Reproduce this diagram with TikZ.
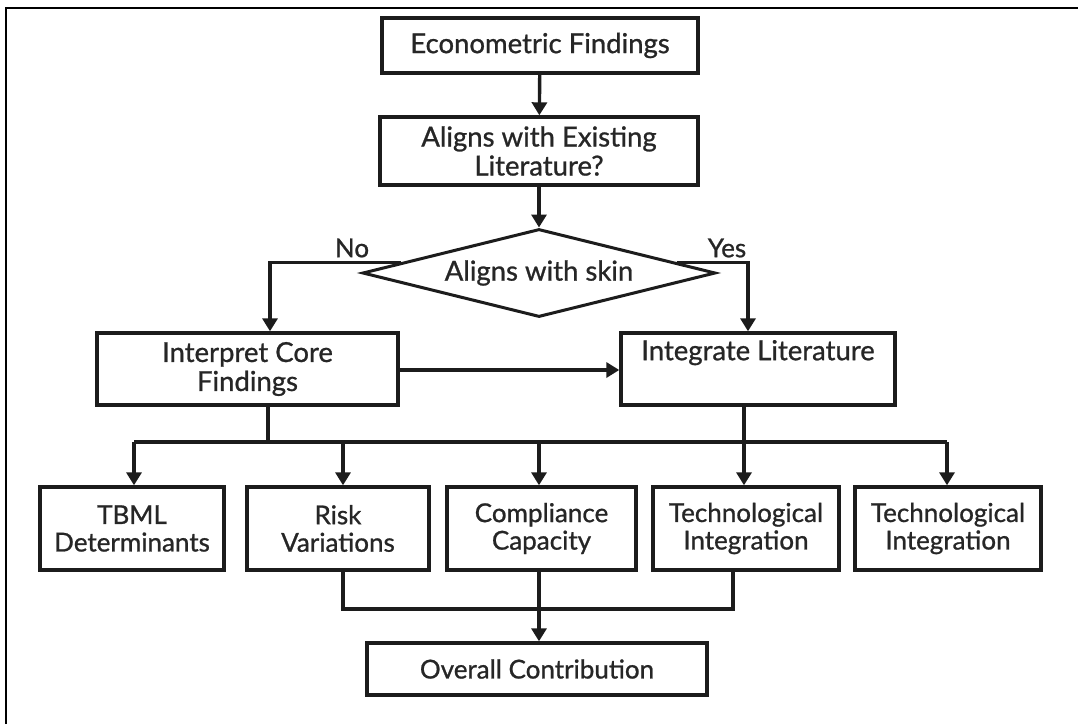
\documentclass[tikz,border=0pt]{standalone}
\usepackage{fontspec}
\setmainfont{Lato}[FakeBold=0.9,BoldFont=Lato]
\usetikzlibrary{arrows.meta,shapes.geometric,calc}
\definecolor{ink}{HTML}{1C1C1C}
\definecolor{txt}{HTML}{262626}
\begin{document}
\begin{tikzpicture}[x=1pt,y=-1pt,
  every node/.style={text=txt,font=\fontsize{27.5}{29}\selectfont\bfseries},
  box/.style={draw=ink,line width=3.4pt,fill=white,align=center,inner sep=0pt},
  choice/.style={draw=ink,line width=3pt,fill=white,diamond,aspect=4,inner sep=0pt},
  link/.style={draw=ink,line width=3.4pt},
  flow/.style={link,-{Triangle[width=15pt,length=13pt]}},
  small/.style={font=\fontsize{26}{27.5}\selectfont\bfseries},
  tag/.style={font=\fontsize{26}{27}\selectfont\bfseries}]
  \useasboundingbox (0,0) rectangle (1078,724);
  \fill[white] (0,0) rectangle (1078,724);
  % partial frame along the top and left edges
  \draw[black,line width=2.2pt] (6,724) -- (6,8) -- (1078,8);

  % main column
  \node[box,minimum width=316pt,minimum height=55pt] (econ) at (540,45.5) {Econometric Findings};
  \node[box,minimum width=318pt,minimum height=68pt] (lit) at (539,151) {Aligns with Existing\\Literature?};
  \node[box,minimum width=301pt,minimum height=72pt] (interp) at (247.5,369) {Interpret Core\\Findings};
  \node[box,minimum width=274pt,minimum height=72pt] (integ) at (758,369) {Integrate Literature\\\strut};

  % outcome row
  \node[box,small,minimum width=184pt,minimum height=83pt] (tbml) at (132,528.5) {TBML\\Determinants};
  \node[box,small,minimum width=182pt,minimum height=83pt] (risk) at (338,528.5) {Risk\\Variations};
  \node[box,small,minimum width=189pt,minimum height=83pt] (comp) at (541.5,528.5) {Compliance\\Capacity};
  \node[box,small,minimum width=186pt,minimum height=83pt] (techa) at (746,528.5) {Technological\\Integration};
  \node[box,small,minimum width=186pt,minimum height=83pt] (techb) at (948,528.5) {Technological\\Integration};
  \node[box,small,minimum width=340pt,minimum height=52pt] (overall) at (537,669) {Overall Contribution};

  % labels of the decision
  \node[tag] (no) at (352,248) {No};
  \node[tag] (yes) at (727,248) {Yes};

  % decision shape; branch lines start on its upper edges
  \node[choice,minimum width=353pt,minimum height=88pt] (dia) at (539,273) {};
  \coordinate (noStart) at ($(dia.west)!0.227!(dia.north)$);
  \coordinate (yesStart) at ($(dia.east)!0.227!(dia.north)$);
  \coordinate (busL) at (134,442);
  \coordinate (busR) at (947,442);
  \coordinate (interpDrop) at (268,442);
  \coordinate (lowL) at (343,609);
  \coordinate (lowR) at (733,609);

  % connectors
  \draw[flow] (econ) -- (lit);
  \draw[flow] (lit) -- (dia);
  \draw[flow] (noStart) -- (noStart -| 270,0) -- (270,0 |- interp.north);
  \draw[flow] (yesStart) -- (yesStart -| 748,0) -- (748,0 |- integ.north);
  \draw[flow] (interp.east |- 0,370) -- (integ.west |- 0,370);

  \draw[link] (interp.south -| interpDrop) -- (interpDrop);
  \draw[link] (busL) -- (busR);
  \draw[flow] (busL) -- (busL |- tbml.north);
  \draw[flow] (343,442) -- (343,0 |- risk.north);
  \draw[flow] (539,442) -- (539,0 |- comp.north);
  \draw[flow] (busR) -- (busR |- techb.north);
  \draw[flow] (744,0 |- integ.south) -- (744,0 |- techa.north);

  \draw[link] (343,0 |- risk.south) -- (lowL) -- (lowR) -- (733,0 |- techa.south);
  \draw[flow] (539,0 |- comp.south) -- (539,0 |- overall.north);

  % decision text
  \node (diatext) at (dia) {Aligns with skin};
\end{tikzpicture}
\end{document}
